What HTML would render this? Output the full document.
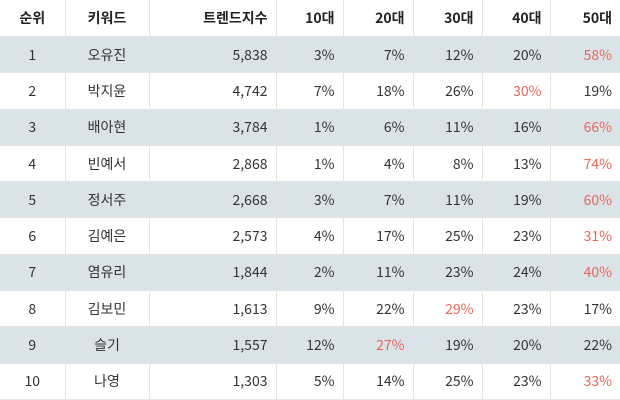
<!DOCTYPE html>
<html><head><meta charset="utf-8"><style>
body{margin:0;width:620px;height:400px;overflow:hidden;background:#fff;font-family:"Noto Sans CJK KR","Liberation Sans",sans-serif;}
table{border-collapse:collapse;width:620px;table-layout:fixed;font-size:14px;line-height:1;color:#333;}
th,td{border:1px solid #e4e4e4;padding:0 8px 0 0;text-align:right;}
th{height:36px;font-weight:bold;color:#222;}
td{height:35.3px;}
tr.s td{background:#dae3e8;}
.c{text-align:center;padding:0;}
.r{color:#e8675a;}
tr:first-child th{border-top:none}
th:first-child,td:first-child{border-left:none}
th:last-child,td:last-child{border-right:none}
</style></head><body>
<table>
<colgroup><col style="width:65px"><col style="width:84px"><col style="width:127px"><col style="width:67px"><col style="width:70px"><col style="width:69px"><col style="width:68px"><col style="width:70px"></colgroup>
<thead><tr>
<th class="c">순위</th>
<th class="c">키워드</th>
<th>트렌드지수</th>
<th>10대</th>
<th>20대</th>
<th>30대</th>
<th>40대</th>
<th>50대</th>
</tr></thead>
<tbody>
<tr class="s"><td class="c">1</td><td class="c">오유진</td><td>5,838</td><td>3%</td><td>7%</td><td>12%</td><td>20%</td><td class="r">58%</td></tr>
<tr><td class="c">2</td><td class="c">박지윤</td><td>4,742</td><td>7%</td><td>18%</td><td>26%</td><td class="r">30%</td><td>19%</td></tr>
<tr class="s"><td class="c">3</td><td class="c">배아현</td><td>3,784</td><td>1%</td><td>6%</td><td>11%</td><td>16%</td><td class="r">66%</td></tr>
<tr><td class="c">4</td><td class="c">빈예서</td><td>2,868</td><td>1%</td><td>4%</td><td>8%</td><td>13%</td><td class="r">74%</td></tr>
<tr class="s"><td class="c">5</td><td class="c">정서주</td><td>2,668</td><td>3%</td><td>7%</td><td>11%</td><td>19%</td><td class="r">60%</td></tr>
<tr><td class="c">6</td><td class="c">김예은</td><td>2,573</td><td>4%</td><td>17%</td><td>25%</td><td>23%</td><td class="r">31%</td></tr>
<tr class="s"><td class="c">7</td><td class="c">염유리</td><td>1,844</td><td>2%</td><td>11%</td><td>23%</td><td>24%</td><td class="r">40%</td></tr>
<tr><td class="c">8</td><td class="c">김보민</td><td>1,613</td><td>9%</td><td>22%</td><td class="r">29%</td><td>23%</td><td>17%</td></tr>
<tr class="s"><td class="c">9</td><td class="c">슬기</td><td>1,557</td><td>12%</td><td class="r">27%</td><td>19%</td><td>20%</td><td>22%</td></tr>
<tr><td class="c">10</td><td class="c">나영</td><td>1,303</td><td>5%</td><td>14%</td><td>25%</td><td>23%</td><td class="r">33%</td></tr>
</tbody></table>
</body></html>
